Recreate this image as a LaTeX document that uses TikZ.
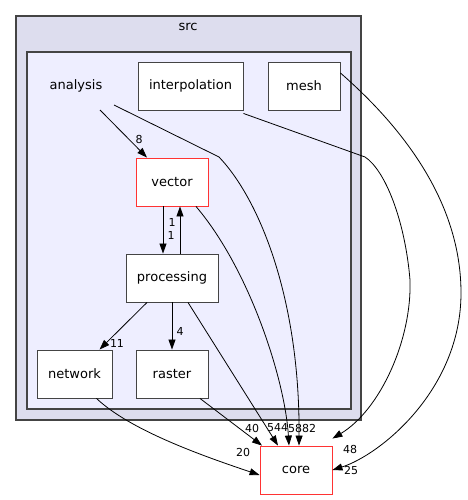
\documentclass[tikz,border=0pt]{standalone}
\usepackage{fontspec}
\setmainfont{DejaVu Sans}
\usetikzlibrary{arrows.meta}
\definecolor{outerfill}{HTML}{DDDDEE}
\definecolor{innerfill}{HTML}{EEEEFF}
\definecolor{edgegray}{HTML}{444444}
\definecolor{hotred}{HTML}{FF3333}
\begin{document}
\begin{tikzpicture}[x=1pt,y=-1pt,
    dirbox/.style={draw=edgegray, fill=white, line width=0.9pt, minimum height=48pt,
        inner sep=0pt, font=\fontsize{13}{15}\selectfont},
    mainbox/.style={dirbox, draw=hotred},
    dep/.style={draw=black, line width=0.8pt, -{Triangle[length=10pt,width=7pt]}},
    num/.style={font=\fontsize{11}{13}\selectfont, inner sep=0pt}]
\useasboundingbox (0,0) rectangle (467,500);

% Clusters
\draw[draw=edgegray, fill=outerfill, line width=1.2pt] (16,16) rectangle (361,420);
\node[font=\fontsize{13}{15}\selectfont] (src) at (188,27) {src};
\draw[draw=edgegray, fill=innerfill, line width=1.2pt] (27,52) rectangle (351,409);
\node[font=\fontsize{13}{15}\selectfont] (analysis) at (76,86) {analysis};
\coordinate (anaA) at (100,110);
\coordinate (anaB) at (114,105);

% Directories
\node[dirbox, minimum width=105pt] (interpolation) at (190.5,86) {interpolation};
\node[dirbox, minimum width=72pt] (mesh) at (304,86) {mesh};
\node[mainbox, minimum width=72pt] (vector) at (172,182) {vector};
\node[dirbox, minimum width=92pt] (processing) at (172,278) {processing};
\node[dirbox, minimum width=75pt] (network) at (74.5,374) {network};
\node[dirbox, minimum width=72pt] (raster) at (172,374) {raster};
\node[mainbox, minimum width=72pt] (core) at (296,470) {core};

% Dependencies inside analysis
\draw[dep] (anaA) -- ([xshift=-25pt]vector.north);
\draw[dep] ([xshift=-9pt]vector.south) -- ([xshift=-9pt]processing.north);
\draw[dep] ([xshift=8pt]processing.north) -- ([xshift=8pt]vector.south);
\draw[dep] ([xshift=-25pt]processing.south) -- ([xshift=25pt]network.north);
\draw[dep] (processing.south) -- (raster.north);

% Dependencies on core
\draw[dep] (anaB) -- (219,157) .. controls (260,200) and (300,300) .. ([xshift=3pt]core.north);
\draw[dep] ([xshift=24pt]vector.south) .. controls (250,270) and (285,380) .. ([xshift=-7pt]core.north);
\draw[dep] ([xshift=16pt]processing.south) -- ([xshift=-18pt]core.north);
\draw[dep] ([xshift=28pt]raster.south) -- ([xshift=-34pt]core.north);
\draw[dep] ([xshift=22pt]network.south) .. controls (130,430) and (200,455) .. ([yshift=-5pt]core.west);
\draw[dep] ([yshift=-3pt]interpolation.south east) -- (365,157) .. controls (385,170) and (405,220) .. (410,280)
    .. controls (412,340) and (380,410) .. ([yshift=7pt]core.north east);
\draw[dep] ([yshift=13pt]mesh.east) .. controls (400,125) and (461,200) .. (461,293)
    .. controls (461,390) and (380,455) .. (core.east);

% Counts
\node[num] (n8) at (139,139) {8};
\node[num] (n1a) at (172,222) {1};
\node[num] (n1b) at (171,235) {1};
\node[num] (n11) at (117,343) {11};
\node[num] (n4) at (180,331) {4};
\node[num] (n40) at (252,428) {40};
\node[num, anchor=west] (n544) at (267,428) {544};
\node[num, anchor=west] (n58) at (288,428) {58};
\node[num, anchor=west] (n82) at (302,428) {82};
\node[num] (n20) at (243,452) {20};
\node[num] (n48) at (350,449) {48};
\node[num] (n25) at (351,470) {25};
\end{tikzpicture}
\end{document}
